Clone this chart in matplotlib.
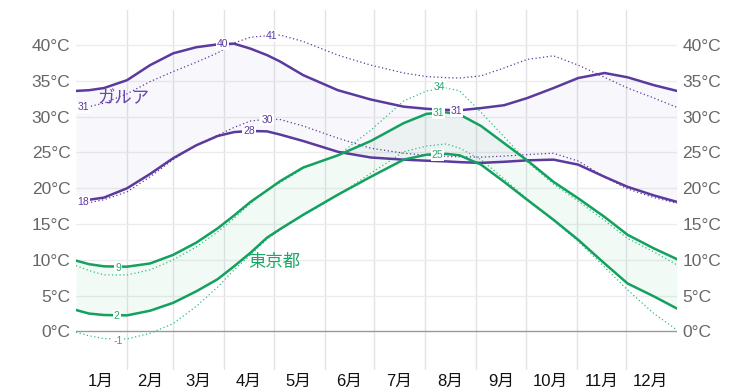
import matplotlib
matplotlib.use("Agg")
import matplotlib.pyplot as plt

plt.rcParams['font.family'] = ['Liberation Sans', 'Noto Sans CJK JP']

# --- données (jour de l'année, °C) ---
days = [0, 8, 17, 31, 45, 59, 73, 86, 96, 106, 116, 124, 138, 159, 179, 199,
        213, 225, 233, 246, 260, 274, 290, 305, 321, 335, 351, 365]

garua_high = [33.6, 33.7, 34.0, 35.1, 37.2, 38.85, 39.7, 40.1, 40.2, 39.5, 38.6, 37.7, 35.8, 33.7,
              32.4, 31.4, 31.1, 30.95, 30.9, 31.2, 31.6, 32.6, 34.0, 35.4, 36.1, 35.5, 34.4, 33.6]
garua_high_rec = [31.2, 31.4, 31.9, 33.2, 34.9, 36.3, 37.6, 38.9, 40.3, 41.1, 41.3, 41.4, 40.5, 38.6,
                  37.2, 36.1, 35.6, 35.45, 35.4, 35.7, 36.8, 38.0, 38.5, 37.2, 35.5, 34.0, 32.6, 31.3]
garua_low = [18.3, 18.4, 18.7, 20.0, 22.0, 24.2, 26.0, 27.3, 27.85, 28.0, 27.95, 27.5, 26.6, 25.1,
             24.3, 24.0, 23.85, 23.75, 23.65, 23.55, 23.7, 23.9, 24.0, 23.3, 21.6, 20.2, 19.0, 18.1]
garua_low_rec = [18.0, 18.0, 18.4, 19.5, 21.6, 24.0, 26.0, 27.4, 28.5, 29.4, 29.65, 29.6, 28.7, 27.0,
                 25.6, 24.9, 24.6, 24.45, 24.4, 24.35, 24.5, 24.7, 24.9, 23.8, 21.6, 19.9, 18.7, 17.9]

tokyo_high = [9.9, 9.4, 9.1, 9.05, 9.5, 10.7, 12.4, 14.4, 16.2, 18.1, 19.7, 21.0, 22.9, 24.6,
              26.6, 29.1, 30.4, 30.6, 30.3, 28.7, 26.3, 23.9, 20.9, 18.6, 16.0, 13.5, 11.6, 10.1]
tokyo_high_rec = [9.2, 8.5, 7.9, 7.9, 8.6, 10.0, 11.8, 13.9, 15.8, 17.9, 19.8, 20.8, 22.8, 24.6,
                  28.1, 32.2, 33.6, 34.0, 33.6, 30.6, 27.2, 23.7, 20.6, 18.2, 15.5, 13.0, 11.1, 9.3]
tokyo_low = [3.0, 2.5, 2.3, 2.25, 2.9, 4.0, 5.6, 7.3, 9.1, 11.0, 13.1, 14.3, 16.3, 19.1,
             21.6, 24.0, 24.7, 24.8, 24.6, 23.3, 20.9, 18.4, 15.6, 12.8, 9.5, 6.7, 4.9, 3.2]
tokyo_low_rec = [-0.1, -0.6, -1.0, -1.05, -0.25, 1.1, 3.5, 6.2, 8.6, 10.7, 12.9, 14.2, 16.2, 19.0,
                 22.1, 25.1, 25.9, 26.2, 25.6, 24.0, 21.3, 18.5, 15.5, 12.6, 9.0, 5.8, 2.5, 0.2]

month_starts = [31, 59, 90, 120, 151, 181, 212, 243, 273, 304, 334]
month_mids = [15, 45, 74, 105, 135, 166, 196, 227, 258, 288, 319, 349]
month_labels = ['1月', '2月', '3月', '4月', '5月', '6月', '7月', '8月', '9月', '10月', '11月', '12月']
y_ticks = [0, 5, 10, 15, 20, 25, 30, 35, 40]

# étiquettes des extrêmes : (jour, valeur affichée, position y)
garua_marks = [(89, '40', 40.15), (118.6, '41', 41.3), (105, '28', 28.0), (116, '30', 29.6),
               (4.3, '31', 31.3), (4.3, '18', 18.1), (231, '31', 30.8)]
tokyo_marks = [(220, '31', 30.5), (221, '34', 34.1), (219.6, '25', 24.65),
               (25.5, '9', 8.9), (24.8, '2', 2.16), (25.5, '-1', -1.33)]

PURPLE = '#5b3a9e'
GREEN = '#12a15e'
GREEN_DOT = '#2fbf80'

fig = plt.figure(figsize=(7.53, 3.92), dpi=100)
ax = fig.add_axes([76 / 753, 22 / 392, 601 / 753, 360 / 392])
ax.set_xlim(0, 365)
ax.set_ylim(-5.38, 44.9)

# grille
for d in month_starts:
    ax.axvline(d, color='#e3e3e6', lw=1, zorder=0)
for t in y_ticks:
    ax.axhline(t, color='#999999' if t == 0 else '#ececec', lw=1, zorder=0)

# bandes
ax.fill_between(days, garua_low, garua_high, color=PURPLE, alpha=0.04, lw=0, zorder=1)
ax.fill_between(days, tokyo_low, tokyo_high, color=GREEN, alpha=0.05, lw=0, zorder=1)

# courbes
ax.plot(days, garua_high_rec, color=PURPLE, lw=0.9, ls=(0, (1, 2)), zorder=2)
ax.plot(days, garua_low_rec, color=PURPLE, lw=0.9, ls=(0, (1, 2)), zorder=2)
ax.plot(days, tokyo_high_rec, color=GREEN_DOT, lw=0.9, ls=(0, (1, 2)), zorder=2)
ax.plot(days, tokyo_low_rec, color=GREEN_DOT, lw=0.9, ls=(0, (1, 2)), zorder=2)
ax.plot(days, garua_high, color=PURPLE, lw=1.8, zorder=3)
ax.plot(days, garua_low, color=PURPLE, lw=1.8, zorder=3)
ax.plot(days, tokyo_high, color=GREEN, lw=1.8, zorder=3)
ax.plot(days, tokyo_low, color=GREEN, lw=1.8, zorder=3)

box = dict(facecolor='white', edgecolor='none', pad=0.6)
for d, txt, y in garua_marks:
    ax.text(d, y, txt, color=PURPLE, fontsize=7.5, ha='center', va='center', bbox=box, zorder=4)
for d, txt, y in tokyo_marks:
    ax.text(d, y, txt, color='#2aa872', fontsize=7.5, ha='center', va='center', bbox=box, zorder=4)

ax.text(12.8, 32.6, 'ガルア', color='#6a45ad', fontsize=12.5, ha='left', va='center', zorder=5)
ax.text(104.6, 9.75, '東京都', color='#1aa866', fontsize=12.5, ha='left', va='center', zorder=5)

# axes
ax.set_xticks(month_mids)
ax.set_xticklabels(month_labels, fontsize=12, color='#111111')
ax.set_yticks(y_ticks)
ax.set_yticklabels([f'{t}°C' for t in y_ticks], fontsize=12.5, color='#666666')
ax.tick_params(axis='x', length=0, pad=3)
ax.tick_params(axis='y', length=0, pad=4, labelleft=True, labelright=True)
for s in ax.spines.values():
    s.set_visible(False)

fig.savefig('out.png', dpi=100)
